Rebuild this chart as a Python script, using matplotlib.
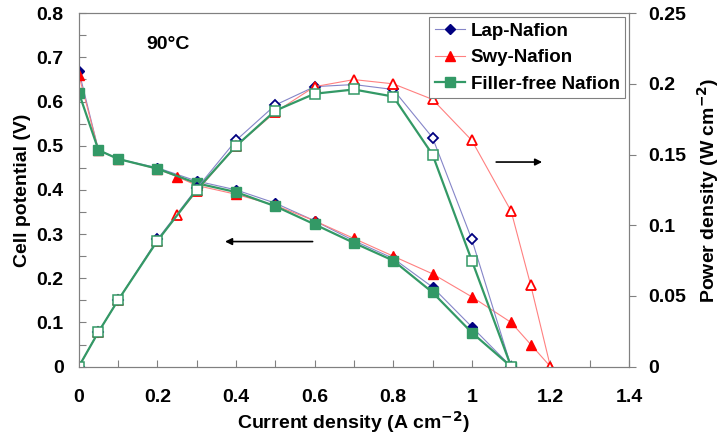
import matplotlib
matplotlib.use("Agg")
import matplotlib.pyplot as plt
from matplotlib.ticker import MultipleLocator

plt.rcParams["font.family"] = "Liberation Sans"
plt.rcParams["font.weight"] = "bold"
plt.rcParams["mathtext.default"] = "bf"

# ── data ───────────────────────────────────────────────────────
cur_std = [0, 0.05, 0.1, 0.2, 0.3, 0.4, 0.5, 0.6, 0.7, 0.8, 0.9, 1.0, 1.1]
cur_swy = [0, 0.05, 0.1, 0.2, 0.25, 0.3, 0.4, 0.5, 0.6, 0.7, 0.8, 0.9, 1.0, 1.1, 1.15, 1.2]

v_lap = [0.67, 0.49, 0.47, 0.45, 0.42, 0.40, 0.37, 0.33, 0.285, 0.245, 0.18, 0.09, 0.0]
v_swy = [0.66, 0.49, 0.47, 0.447, 0.43, 0.41, 0.39, 0.365, 0.33, 0.29, 0.25, 0.21, 0.158, 0.10, 0.05, 0.0]
v_ff = [0.62, 0.49, 0.47, 0.448, 0.415, 0.395, 0.363, 0.322, 0.28, 0.24, 0.168, 0.077, 0.0]

p_lap = [0, 0.0245, 0.047, 0.09, 0.126, 0.16, 0.185, 0.198, 0.1995, 0.196, 0.162, 0.09, 0.0]
p_swy = [0, 0.0245, 0.047, 0.089, 0.107, 0.124, 0.156, 0.18, 0.198, 0.203, 0.2, 0.189, 0.16, 0.11, 0.0575, 0.0]
p_ff = [0, 0.0245, 0.047, 0.089, 0.125, 0.156, 0.181, 0.193, 0.196, 0.191, 0.15, 0.075, 0.0]

NAVY = "#000080"
NAVY_LINE = "#8585c8"
RED = "#ff0000"
RED_LINE = "#ff8080"
GREEN = "#339966"
FS = 14

fig = plt.figure(figsize=(7.23, 4.38), dpi=100)
ax = fig.add_axes([0.109, 0.163, 0.761, 0.807])
ax2 = ax.twinx()

# voltage (filled markers)
ax.plot(cur_std, v_lap, color=NAVY_LINE, lw=0.8, marker="D", ms=5,
        mfc=NAVY, mec=NAVY, label="Lap-Nafion", zorder=3)
ax.plot(cur_swy, v_swy, color=RED_LINE, lw=0.8, marker="^", ms=7,
        mfc=RED, mec=RED, label="Swy-Nafion", zorder=3)
ax.plot(cur_std, v_ff, color=GREEN, lw=1.6, marker="s", ms=7,
        mfc=GREEN, mec=GREEN, label="Filler-free Nafion", zorder=4)

# power (open markers)
ax2.plot(cur_std, p_lap, color=NAVY_LINE, lw=0.8, marker="D", ms=5,
         mfc="white", mec=NAVY, mew=1.3)
ax2.plot(cur_swy, p_swy, color=RED_LINE, lw=0.8, marker="^", ms=7,
         mfc="white", mec=RED, mew=1.3)
ax2.plot(cur_std, p_ff, color=GREEN, lw=1.6, marker="s", ms=7,
         mfc="white", mec=GREEN, mew=1.1)

ax.set_xlim(0, 1.4)
ax.set_ylim(0, 0.8)
ax2.set_ylim(0, 0.25)

ax.xaxis.set_major_locator(MultipleLocator(0.2))
ax.xaxis.set_minor_locator(MultipleLocator(0.1))
ax.yaxis.set_major_locator(MultipleLocator(0.1))
ax.yaxis.set_minor_locator(MultipleLocator(0.05))
ax2.yaxis.set_major_locator(MultipleLocator(0.05))

ax.xaxis.set_major_formatter(lambda v, p: f"{v:g}")
ax.yaxis.set_major_formatter(lambda v, p: f"{v:g}")
ax2.yaxis.set_major_formatter(lambda v, p: f"{v:g}")

for a in (ax, ax2):
    for s in a.spines.values():
        s.set_color("#808080")
ax.tick_params(axis="both", which="both", direction="in", color="#808080",
               labelsize=FS, length=5, width=0.8)
ax.tick_params(axis="x", pad=16)
ax.tick_params(axis="y", pad=11)
ax2.tick_params(axis="y", direction="out", color="#808080", labelsize=FS,
                length=5, width=0.8, pad=9)

ax.set_xlabel("Current density (A cm$^{-2}$)", fontsize=FS, fontweight="bold", labelpad=2)
ax.set_ylabel("Cell potential (V)", fontsize=FS, fontweight="bold", labelpad=4)
ax2.set_ylabel("Power density (W cm$^{-2}$)", fontsize=FS, fontweight="bold", labelpad=6)

ax.text(0.173, 0.728, "90°C", fontsize=FS, fontweight="bold", va="center", ha="left")

ax.annotate("", xy=(0.365, 0.283), xytext=(0.602, 0.283),
            arrowprops=dict(arrowstyle="-|>", color="black", lw=1.2,
                            mutation_scale=10))
ax.annotate("", xy=(1.186, 0.463), xytext=(1.055, 0.463),
            arrowprops=dict(arrowstyle="-|>", color="black", lw=1.2,
                            mutation_scale=10))

h, l = ax.get_legend_handles_labels()
leg = ax2.legend(h, l, loc="upper right", frameon=True, fancybox=False,
                 edgecolor="#808080", framealpha=1, handlelength=1.6,
                 handletextpad=0.3, borderpad=0.3, labelspacing=0.5,
                 borderaxespad=0.2, prop={"weight": "bold", "size": 13.5})
leg.get_frame().set_linewidth(0.8)

fig.savefig("out.png", dpi=100)
